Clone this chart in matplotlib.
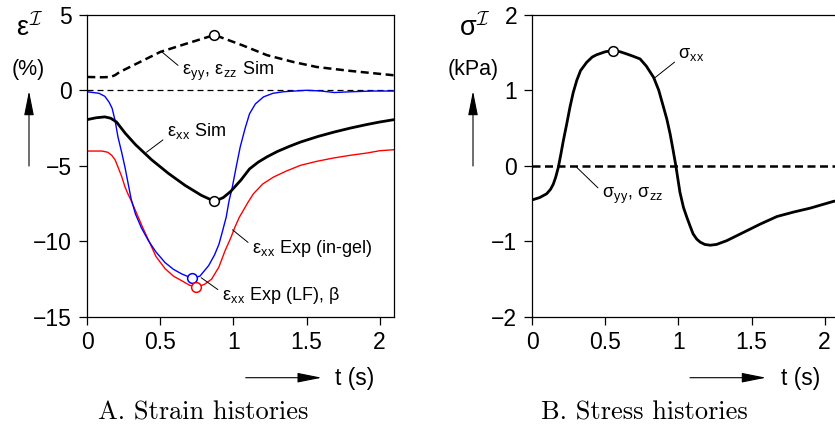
import numpy as np
import matplotlib
matplotlib.use('Agg')
import matplotlib.pyplot as plt
from matplotlib.patches import FancyArrowPatch

plt.rcParams['font.family'] = ['Liberation Sans', 'DejaVu Sans']
plt.rcParams['mathtext.fontset'] = 'cm'

################################ data
# strain, left panel
t_eyy = [0, 0.1, 0.16, 0.19, 0.22, 0.36, 0.5, 0.68, 0.87, 1.06, 1.23, 1.41, 1.57, 1.8, 2.1]
eps_yy_sim = [0.88, 0.86, 0.88, 1.0, 1.2, 1.87, 2.54, 3.09, 3.66, 2.98, 2.32, 1.87, 1.54, 1.28, 0.99]

t_exx = [0, 0.06, 0.12, 0.16, 0.2, 0.26, 0.33, 0.44, 0.555, 0.67, 0.78, 0.87, 0.93, 0.98,
         1.05, 1.11, 1.17, 1.23, 1.3, 1.38, 1.46, 1.58, 1.69, 1.8, 1.91, 2.0, 2.1]
eps_xx_sim = [-1.94, -1.82, -1.76, -1.85, -2.1, -2.85, -3.6, -4.6, -5.5, -6.3, -6.95, -7.35, -7.1, -6.7,
              -5.95, -5.2, -4.75, -4.4, -4.05, -3.72, -3.42, -3.05, -2.76, -2.5, -2.27, -2.1, -1.94]

t_gel = [0, 0.08, 0.12, 0.15, 0.17, 0.19, 0.21, 0.235, 0.258, 0.28, 0.3, 0.33, 0.37, 0.418, 0.47,
         0.532, 0.59, 0.646, 0.715, 0.77, 0.83, 0.87, 0.9, 0.92, 0.95, 0.97, 0.99, 1.02, 1.046,
         1.08, 1.11, 1.15, 1.205, 1.27, 1.34, 1.5, 1.6, 1.69, 1.8, 1.95, 2.1]
eps_xx_gel = [-0.1, -0.2, -0.4, -0.8, -1.2, -2.0, -3.1, -4.1, -5.1, -6.2, -7.2, -8.2, -9.1, -9.95, -10.7,
              -11.4, -11.85, -12.15, -12.43, -12.3, -11.6, -10.9, -10.2, -9.5, -8.4, -7.3, -6.5, -5.0, -3.75,
              -2.5, -1.55, -0.9, -0.44, -0.2, -0.1, 0.0, -0.05, -0.15, -0.1, -0.05, -0.05]

t_lf = [0, 0.1, 0.14, 0.167, 0.19, 0.21, 0.235, 0.258, 0.28, 0.3, 0.34, 0.38, 0.418, 0.47, 0.532,
        0.59, 0.646, 0.7, 0.745, 0.8, 0.85, 0.9, 0.943, 0.98, 1.01, 1.04, 1.07, 1.1, 1.137, 1.2,
        1.274, 1.36, 1.457, 1.57, 1.685, 1.8, 1.914, 2.0, 2.1]
eps_xx_lf = [-4.02, -4.02, -4.1, -4.3, -4.6, -5.08, -5.7, -6.4, -6.9, -7.3, -8.2, -9.1, -9.9, -11.0, -11.8,
             -12.3, -12.6, -12.9, -13.02, -12.85, -12.5, -11.7, -10.6, -9.8, -9.05, -8.4, -7.9, -7.4, -6.84, -6.2,
             -5.74, -5.35, -4.97, -4.7, -4.48, -4.3, -4.15, -4.0, -3.93]

# stress, right panel
t_sig = [0, 0.05, 0.098, 0.125, 0.144, 0.16, 0.178, 0.195, 0.212, 0.235, 0.258, 0.28, 0.304, 0.33,
         0.372, 0.41, 0.44, 0.5, 0.55, 0.6, 0.647, 0.69, 0.737, 0.78, 0.83, 0.865, 0.897, 0.92,
         0.943, 0.962, 0.982, 1.01, 1.034, 1.057, 1.08, 1.1, 1.125, 1.149, 1.18, 1.217, 1.26,
         1.33, 1.445, 1.56, 1.674, 1.79, 1.9, 2.06, 2.15]
sig_xx = [-0.45, -0.42, -0.37, -0.31, -0.24, -0.15, -0.02, 0.15, 0.33, 0.55, 0.78, 0.97, 1.13, 1.26,
          1.37, 1.44, 1.47, 1.51, 1.525, 1.51, 1.48, 1.45, 1.415, 1.32, 1.17, 1.0, 0.78, 0.62,
          0.42, 0.22, 0.0, -0.35, -0.55, -0.68, -0.8, -0.9, -0.97, -1.01, -1.04, -1.05, -1.04,
          -0.99, -0.88, -0.77, -0.67, -0.61, -0.56, -0.47, -0.44]
t_zero = [0, 2.2]
sig_yy = [0, 0]

xticks = [0, 0.5, 1, 1.5, 2]
xticklabels = ['0', '0.5', '1', '1.5', '2']
yticks_strain = [-15, -10, -5, 0, 5]
yticks_stress = [-2, -1, 0, 1, 2]
################################

W, H = 835, 429
fig = plt.figure(figsize=(W / 100, H / 100), dpi=100)

def px(x, y):
    return x / W, 1 - y / H

ax1 = fig.add_axes([87.3 / W, 1 - 317 / H, 307 / W, 302.3 / H])
ax2 = fig.add_axes([532.3 / W, 1 - 317 / H, 307 / W, 302.3 / H])

thick_dash = (3.2, 1.8)

# strain panel
ax1.plot(t_zero, [0, 0], color='black', lw=0.9, dashes=(4.8, 3.2))
ax1.plot(t_lf, eps_xx_lf, color='#ff0000', lw=1.0)
ax1.plot(t_gel, eps_xx_gel, color='#0000ff', lw=1.0)
ax1.plot(t_exx, eps_xx_sim, color='black', lw=2.0)
ax1.plot(t_eyy, eps_yy_sim, color='black', lw=1.8, dashes=thick_dash)

mk = dict(marker='o', ms=7, mfc='white', mew=1.1, ls='none', zorder=5)
i = int(np.argmax(eps_yy_sim)); ax1.plot(t_eyy[i], eps_yy_sim[i], mec='black', **mk)
i = int(np.argmin(eps_xx_sim)); ax1.plot(t_exx[i], eps_xx_sim[i], mec='black', **mk)
i = int(np.argmin(eps_xx_gel)); ax1.plot(t_gel[i], eps_xx_gel[i], mec='#0000ff', **mk)
i = int(np.argmin(eps_xx_lf)); ax1.plot(t_lf[i], eps_xx_lf[i], mec='#ff0000', **mk)

ax1.set_xlim(0, 2.1)
ax1.set_ylim(-15, 5)
ax1.set_yticks(yticks_strain)

# stress panel
ax2.plot(t_sig, sig_xx, color='black', lw=2.0)
ax2.plot(t_zero, sig_yy, color='black', lw=1.8, dashes=thick_dash)
i = int(np.argmax(sig_xx)); ax2.plot(t_sig[i], sig_xx[i], mec='black', **mk)
ax2.set_xlim(0, 2.1)
ax2.set_ylim(-2, 2)
ax2.set_yticks(yticks_stress)

for ax in (ax1, ax2):
    ax.set_xticks(xticks)
    ax.set_xticklabels(xticklabels)
    ax.tick_params(direction='out', length=6, width=0.9, labelsize=16.5, pad=4)
    ax.tick_params(axis='y', pad=5)
    for s in ax.spines.values():
        s.set_linewidth(0.9)

# curve labels with leader lines
lab = dict(fontsize=13, ha='left', va='center')
lead = dict(arrowstyle='-', lw=0.7, color='black', shrinkA=1, shrinkB=0)
ax1.annotate(r'ε$_\mathregular{yy}$, ε$_\mathregular{zz}$ Sim', xy=(0.51, 2.54), xytext=(0.647, 1.28),
             arrowprops=dict(relpos=(0, 0.6), **lead), **lab)
ax1.annotate(r'ε$_\mathregular{xx}$ Sim', xy=(0.405, -4.1), xytext=(0.544, -2.76),
             arrowprops=dict(relpos=(0, 0.25), **lead), **lab)
ax1.annotate(r'ε$_\mathregular{xx}$ Exp (in-gel)', xy=(0.993, -9.23), xytext=(1.126, -10.48),
             arrowprops=dict(relpos=(0, 0.65), **lead), **lab)
ax1.annotate(r'ε$_\mathregular{xx}$ Exp (LF), β', xy=(0.779, -12.4), xytext=(0.92, -13.58),
             arrowprops=dict(relpos=(0, 0.65), **lead), **lab)
ax2.annotate(r'σ$_\mathregular{xx}$', xy=(0.829, 1.151), xytext=(1.0, 1.459),
             arrowprops=dict(relpos=(0, 0.3), **lead), **lab)
ax2.annotate(r'σ$_\mathregular{yy}$, σ$_\mathregular{zz}$', xy=(0.304, -0.02), xytext=(0.475, -0.393),
             arrowprops=dict(relpos=(0, 0.7), **lead), **lab)

# axis titles and arrows
fig.text(*px(16, 36), r'ε$^{\mathcal{I}}$', fontsize=19.5, ha='left', va='baseline')
fig.text(*px(28, 70), '(%)', fontsize=15.5, ha='center', va='center')
fig.text(*px(459, 36), r'σ$^{\mathcal{I}}$', fontsize=19.5, ha='left', va='baseline')
fig.text(*px(473, 70), '(kPa)', fontsize=15.5, ha='center', va='center')

arr = dict(arrowstyle='-|>,head_length=1.5,head_width=0.3', mutation_scale=10,
           lw=0.8, color='black', transform=fig.transFigure, shrinkA=0, shrinkB=0)
for x in (29, 473):
    fig.patches.append(FancyArrowPatch(px(x, 166), px(x, 91), **arr))
for x0 in (245.7, 690):
    fig.patches.append(FancyArrowPatch(px(x0, 377.7), px(x0 + 76, 377.7), **arr))
fig.text(*px(335, 378), 't (s)', fontsize=16.5, ha='left', va='center')
fig.text(*px(781, 378), 't (s)', fontsize=16.5, ha='left', va='center')

fig.text(*px(203, 413), 'A. Strain histories', fontsize=19, family='cmr10', ha='center', va='center')
fig.text(*px(644, 413), 'B. Stress histories', fontsize=19, family='cmr10', ha='center', va='center')

fig.savefig('out.png', dpi=100)
